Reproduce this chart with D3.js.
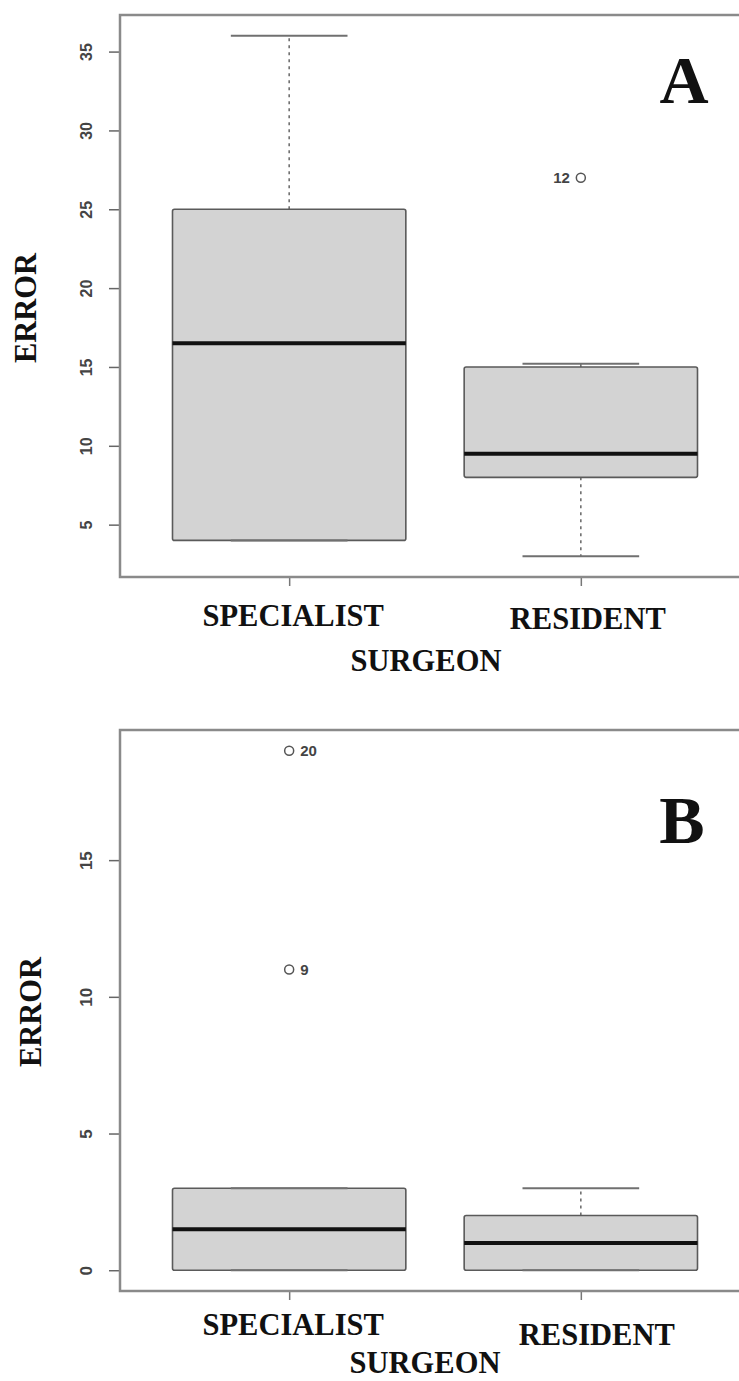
<!DOCTYPE html>
<html>
<head>
<meta charset="utf-8">
<script src="https://cdn.jsdelivr.net/npm/d3@7"></script>
<style>
  body { margin: 0; background: #fff; }
  svg { display: block; background: #fff; }
  .serif { font-family: 'Liberation Serif', 'Times New Roman', serif; font-weight: bold; fill: #111; }
  .tick text { font-family: 'Liberation Sans', Arial, sans-serif; font-weight: bold; fill: #444; }
  .outlabel { font-family: 'Liberation Sans', Arial, sans-serif; font-weight: bold; fill: #444; }
</style>
</head>
<body>
<svg width="739" height="1381"></svg>
<script>
// groups on the x axis
const GROUPS = ['SPECIALIST', 'RESIDENT'];

// panel A: [lower whisker, Q1, median, Q3, upper whisker] per group
const statsA = [[4, 4, 16.5, 25, 36], [3, 8, 9.5, 15, 15.2]];
const outValuesA = [27];
const outGroupsA = ['RESIDENT'];
const outLabelsA = ['12'];
const ticksA = [5, 10, 15, 20, 25, 30, 35];

// panel B
const statsB = [[0, 0, 1.5, 3, 3], [0, 0, 1, 2, 3]];
const outValuesB = [19, 11];
const outGroupsB = ['SPECIALIST', 'SPECIALIST'];
const outLabelsB = ['20', '9'];
const ticksB = [0, 5, 10, 15];

var svg = d3.select('svg');

drawPanel({
    stats: statsA, outValues: outValuesA, outGroups: outGroupsA, outLabels: outLabelsA, ticks: ticksA,
    top: 15, bottom: 577, tickFont: 16, labelLeft: true,
    letter: 'A', letterX: 684, letterY: 103,
    ylabX: 36, ylabY: 308,
    catDx: [4, 7], catY: [626, 629], titleX: 426, titleY: 671
});

drawPanel({
    stats: statsB, outValues: outValuesB, outGroups: outGroupsB, outLabels: outLabelsB, ticks: ticksB,
    top: 730, bottom: 1291, tickFont: 17, labelLeft: false,
    letter: 'B', letterX: 682, letterY: 843,
    ylabX: 41, ylabY: 1012,
    catDx: [4, 16], catY: [1335, 1345], titleX: 425, titleY: 1373
});

function drawPanel(p) {
    var left = 120, right = 750;

    // R style range: data range widened by 4% on each side
    var all = p.stats.flat().concat(p.outValues);
    var ext = d3.extent(all);
    var pad = (ext[1] - ext[0]) * 0.04;

    var x = d3.scaleLinear().domain([0.42, GROUPS.length + 0.58]).range([left, right]);
    var y = d3.scaleLinear().domain([ext[0] - pad, ext[1] + pad]).range([p.bottom, p.top]);

    var g = svg.append('g');

    // boxes
    var box = g.selectAll('.box')
        .data(p.stats)
        .enter().append('g')
        .attr('class', 'box');

    // dashed whiskers
    box.append('line')
        .attr('x1', function(d, i) { return x(i + 1); })
        .attr('x2', function(d, i) { return x(i + 1); })
        .attr('y1', function(d) { return y(d[3]); })
        .attr('y2', function(d) { return y(d[4]); })
        .attr('stroke', '#666')
        .attr('stroke-width', 1.5)
        .attr('stroke-dasharray', '3,4');
    box.append('line')
        .attr('x1', function(d, i) { return x(i + 1); })
        .attr('x2', function(d, i) { return x(i + 1); })
        .attr('y1', function(d) { return y(d[1]); })
        .attr('y2', function(d) { return y(d[0]); })
        .attr('stroke', '#666')
        .attr('stroke-width', 1.5)
        .attr('stroke-dasharray', '3,4');

    box.append('rect')
        .attr('x', function(d, i) { return x(i + 1 - 0.4); })
        .attr('width', function(d, i) { return x(i + 1 + 0.4) - x(i + 1 - 0.4); })
        .attr('y', function(d) { return y(d[3]); })
        .attr('height', function(d) { return y(d[1]) - y(d[3]); })
        .attr('rx', 2)
        .attr('fill', '#d3d3d3')
        .attr('stroke', '#5a5a5a')
        .attr('stroke-width', 1.6);

    // whisker caps
    [0, 4].forEach(function(k) {
        box.append('line')
            .attr('x1', function(d, i) { return x(i + 1 - 0.2); })
            .attr('x2', function(d, i) { return x(i + 1 + 0.2); })
            .attr('y1', function(d) { return y(d[k]); })
            .attr('y2', function(d) { return y(d[k]); })
            .attr('stroke', '#707070')
            .attr('stroke-width', 2);
    });

    // median
    box.append('line')
        .attr('x1', function(d, i) { return x(i + 1 - 0.4); })
        .attr('x2', function(d, i) { return x(i + 1 + 0.4); })
        .attr('y1', function(d) { return y(d[2]); })
        .attr('y2', function(d) { return y(d[2]); })
        .attr('stroke', '#111')
        .attr('stroke-width', 4);

    // outliers with their case numbers
    p.outValues.forEach(function(v, i) {
        var cx = x(GROUPS.indexOf(p.outGroups[i]) + 1);
        g.append('circle')
            .attr('cx', cx)
            .attr('cy', y(v))
            .attr('r', 4.5)
            .attr('fill', 'none')
            .attr('stroke', '#555')
            .attr('stroke-width', 1.5);
        g.append('text')
            .attr('class', 'outlabel')
            .attr('x', p.labelLeft ? cx - 11 : cx + 11)
            .attr('y', y(v))
            .attr('dy', '0.36em')
            .attr('text-anchor', p.labelLeft ? 'end' : 'start')
            .style('font-size', '15px')
            .text(p.outLabels[i]);
    });

    // y axis, labels parallel to the axis
    var yAxis = g.append('g')
        .attr('transform', 'translate(' + left + ',0)')
        .call(d3.axisLeft(y).tickValues(p.ticks).tickSize(11).tickSizeOuter(0));
    yAxis.select('.domain').remove();
    yAxis.selectAll('.tick line').attr('stroke', '#666').attr('stroke-width', 1.5);
    yAxis.selectAll('.tick text')
        .attr('transform', 'rotate(-90)')
        .attr('x', 0)
        .attr('y', -28)
        .attr('dy', 0)
        .attr('text-anchor', 'middle')
        .style('font-size', p.tickFont + 'px');

    // x axis ticks
    var xAxis = g.append('g')
        .attr('transform', 'translate(0,' + p.bottom + ')')
        .call(d3.axisBottom(x).tickValues(d3.range(1, GROUPS.length + 1)).tickSize(9).tickSizeOuter(0).tickFormat(''));
    xAxis.select('.domain').remove();
    xAxis.selectAll('.tick line').attr('stroke', '#777').attr('stroke-width', 1.5);

    // frame
    g.append('rect')
        .attr('x', left)
        .attr('y', p.top)
        .attr('width', right - left)
        .attr('height', p.bottom - p.top)
        .attr('fill', 'none')
        .attr('stroke', '#8a8a8a')
        .attr('stroke-width', 2.5);

    // category labels
    GROUPS.forEach(function(name, i) {
        g.append('text')
            .attr('class', 'serif')
            .attr('x', x(i + 1) + p.catDx[i])
            .attr('y', p.catY[i])
            .attr('text-anchor', 'middle')
            .style('font-size', '30.5px')
            .text(name);
    });

    g.append('text')
        .attr('class', 'serif')
        .attr('x', p.titleX)
        .attr('y', p.titleY)
        .attr('text-anchor', 'middle')
        .style('font-size', '30.5px')
        .text('SURGEON');

    g.append('text')
        .attr('class', 'serif')
        .attr('transform', 'translate(' + p.ylabX + ',' + p.ylabY + ') rotate(-90)')
        .attr('text-anchor', 'middle')
        .style('font-size', '30.5px')
        .text('ERROR');

    // panel letter
    g.append('text')
        .attr('class', 'serif')
        .attr('x', p.letterX)
        .attr('y', p.letterY)
        .attr('text-anchor', 'middle')
        .style('font-size', '68px')
        .text(p.letter);
}
</script>
</body>
</html>
